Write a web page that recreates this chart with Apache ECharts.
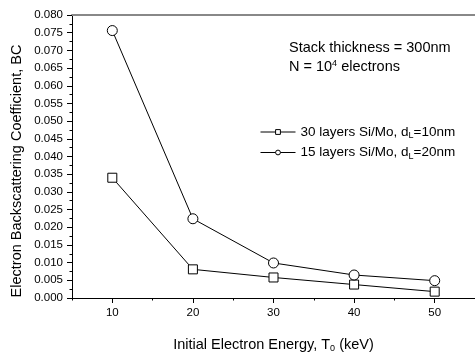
<!DOCTYPE html>
<html>
<head>
<meta charset="utf-8">
<script src="https://cdn.jsdelivr.net/npm/echarts@6/dist/echarts.min.js"></script>
<style>
html,body{margin:0;padding:0;background:#fff;}
#chart{width:475px;height:358px;}
</style>
</head>
<body>
<div id="chart"></div>
<script>
const energies = [10, 20, 30, 40, 50];
const layers30 = [0.0340, 0.0081, 0.0058, 0.0038, 0.0018];
const layers15 = [0.0756, 0.0224, 0.0099, 0.0065, 0.0049];
const xMajorTicks = [10, 20, 30, 40, 50];
const xMinorTicks = [5, 15, 25, 35, 45, 55];
const seriesNames = ['30 layers Si/Mo, d{sub|L}=10nm', '15 layers Si/Mo, d{sub|L}=20nm'];

const FONT = 'Arial, "Liberation Sans", sans-serif';
const subStyle = { fontSize: 9, fontFamily: FONT, color: '#000', padding: [8, 0, 0, 0] };
const supStyle = { fontSize: 9, fontFamily: FONT, color: '#000', padding: [0, 0, 7, 0] };

const chart = echarts.init(document.getElementById('chart'), null, { renderer: 'canvas' });

chart.setOption({
  animation: false,
  backgroundColor: '#fff',
  grid: { left: 72, right: -1, top: 15, bottom: 47, containLabel: false },
  xAxis: [
    {
      type: 'value', position: 'bottom', min: 5, max: 55,
      axisLine: { show: true, lineStyle: { color: '#000', width: 1 } },
      axisTick: { show: true, inside: false, length: 5, customValues: xMajorTicks, lineStyle: { color: '#000' } },
      axisLabel: { show: true, customValues: xMajorTicks, margin: 9, fontSize: 11.5, fontFamily: FONT, color: '#000' },
      splitLine: { show: false },
      name: 'Initial Electron Energy, T{sub|0} (keV)',
      nameLocation: 'middle', nameGap: 38,
      nameTextStyle: { fontSize: 14.5, fontFamily: FONT, color: '#000', rich: { sub: subStyle } }
    },
    {
      type: 'value', position: 'bottom', min: 5, max: 55,
      axisLine: { show: false },
      axisTick: { show: true, inside: false, length: 2.5, customValues: xMinorTicks, lineStyle: { color: '#000' } },
      axisLabel: { show: false },
      splitLine: { show: false }
    },
    {
      type: 'value', position: 'top', min: 5, max: 55,
      axisLine: { show: true, lineStyle: { color: '#888', width: 2 } },
      axisTick: { show: false }, axisLabel: { show: false }, splitLine: { show: false }
    }
  ],
  yAxis: {
    type: 'value', min: 0, max: 0.08, interval: 0.005,
    axisLine: { show: true, lineStyle: { color: '#000', width: 1 } },
    axisTick: { show: true, inside: false, length: 5, lineStyle: { color: '#000' } },
    minorTick: { show: true, splitNumber: 2, length: 2.5, lineStyle: { color: '#000' } },
    axisLabel: { margin: 9, fontSize: 11.5, fontFamily: FONT, color: '#000', formatter: v => v.toFixed(3) },
    splitLine: { show: false }
  },
  legend: {
    orient: 'vertical', left: 260, top: 125, padding: 0,
    itemWidth: 35, itemHeight: 6, itemGap: 5,
    itemStyle: { color: '#fff', borderColor: '#000', borderWidth: 1 },
    lineStyle: { color: '#000', width: 1 },
    textStyle: { fontSize: 13.5, fontFamily: FONT, color: '#000', rich: { sub: subStyle } },
    data: seriesNames
  },
  graphic: [
    {
      type: 'text', left: 289, top: 40,
      style: { text: 'Stack thickness = 300nm', font: '14.5px ' + FONT, fill: '#000' }
    },
    {
      type: 'text', left: 289, top: 59,
      style: {
        text: 'N = 10{sup|4} electrons', font: '14.5px ' + FONT, fill: '#000',
        rich: { sup: supStyle }
      }
    },
    {
      type: 'text', x: 17, y: 171, rotation: Math.PI / 2,
      style: {
        text: 'Electron Backscattering Coefficient, BC', font: '14.5px ' + FONT, fill: '#000',
        align: 'center', verticalAlign: 'middle'
      }
    }
  ],
  series: [
    {
      name: seriesNames[0], type: 'line', xAxisIndex: 0,
      data: energies.map((e, i) => [e, layers30[i]]),
      symbol: 'rect', symbolSize: 9, showSymbol: true,
      lineStyle: { color: '#000', width: 1 },
      itemStyle: { color: '#fff', borderColor: '#000', borderWidth: 1 }
    },
    {
      name: seriesNames[1], type: 'line', xAxisIndex: 0,
      data: energies.map((e, i) => [e, layers15[i]]),
      symbol: 'circle', symbolSize: 10, showSymbol: true,
      lineStyle: { color: '#000', width: 1 },
      itemStyle: { color: '#fff', borderColor: '#000', borderWidth: 1 }
    }
  ]
});
</script>
</body>
</html>
